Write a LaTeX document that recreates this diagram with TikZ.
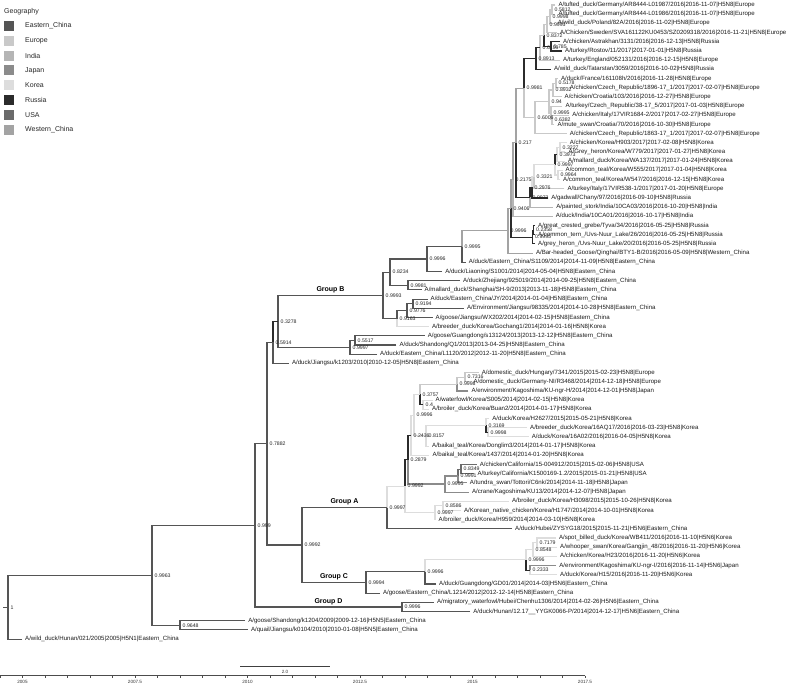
\documentclass[tikz,border=0pt]{standalone}
\usepackage{fontspec}
\setmainfont{Liberation Sans}
\usetikzlibrary{calc}
\pgfdeclarelayer{edges}
\pgfsetlayers{edges,main}
\definecolor{cEC}{HTML}{555555}
\definecolor{cEU}{HTML}{C9C9C9}
\definecolor{cIN}{HTML}{B5B5B5}
\definecolor{cJP}{HTML}{8B8B8B}
\definecolor{cKR}{HTML}{DDDDDD}
\definecolor{cRU}{HTML}{2B2B2B}
\definecolor{cUS}{HTML}{6B6B6B}
\definecolor{cWC}{HTML}{A3A3A3}
\tikzset{
  EC/.style={draw=cEC}, EU/.style={draw=cEU}, IN/.style={draw=cIN}, JP/.style={draw=cJP},
  KR/.style={draw=cKR}, RU/.style={draw=cRU}, US/.style={draw=cUS}, WC/.style={draw=cWC},
  br/.style={line width=1.1pt},
  lab/.style={anchor=west, inner sep=0pt, xshift=3pt, font=\fontsize{6.1}{7}\selectfont, text=black!90},
  bs/.style={anchor=west, inner sep=0pt, xshift=2.5pt, font=\fontsize{5.2}{6}\selectfont, text=black!85},
  grp/.style={above=2pt, inner sep=0pt, font=\fontsize{7}{8}\selectfont\bfseries},
  legtxt/.style={anchor=west, inner sep=0pt, font=\fontsize{7}{8}\selectfont, text=black!85},
  axlab/.style={inner sep=0pt, font=\fontsize{4.6}{5}\selectfont, text=black!80}
}
\newcommand\lf[3]{%
  \pgfmathsetmacro\ly{5+(#1-1)*9.19}%
  \coordinate (L#1) at (#2,\ly);
  \node[lab] at (L#1) {#3};}
\newcommand\inode[7]{%
  \path let \p1=($(#3)!.5!(#5)$) in coordinate (#1) at (#2pt,\y1);
  \begin{pgfonlayer}{edges}
  \draw[br,#4] (#3) -| (#1);
  \draw[br,#6] (#5) -| (#1);
  \end{pgfonlayer}
  \node[bs] at (#1) {#7};}
\begin{document}
\begin{tikzpicture}[x=1pt,y=-1pt]
\useasboundingbox (0,0) rectangle (793,686);
% legend
\node[legtxt] at (4,11.7) {Geography};
\foreach \nm/\cl [count=\i] in {Eastern\_China/cEC,Europe/cEU,India/cIN,Japan/cJP,Korea/cKR,Russia/cRU,USA/cUS,Western\_China/cWC}{
  \fill[\cl] (4,{25.7+(\i-1)*14.9-5}) rectangle ++(10,10);
  \node[legtxt] at (25,{25.7+(\i-1)*14.9}) {\nm};
}
% leaves
\lf{1}{555.3}{A/tufted\_duck/Germany/AR8444-L01987/2016|2016-11-07|H5N8|Europe}
\lf{2}{555.3}{A/tufted\_duck/Germany/AR8444-L01986/2016|2016-11-07|H5N8|Europe}
\lf{3}{554.7}{A/wild\_duck/Poland/82A/2016|2016-11-02|H5N8|Europe}
\lf{4}{557}{A/Chicken/Sweden/SVA161122KU0453/SZ0209318/2016|2016-11-21|H5N8|Europe}
\lf{5}{559.8}{A/chicken/Astrakhan/3131/2016|2016-12-13|H5N8|Russia}
\lf{6}{562}{A/turkey/Rostov/11/2017|2017-01-01|H5N8|Russia}
\lf{7}{560}{A/turkey/England/052131/2016|2016-12-15|H5N8|Europe}
\lf{8}{550.8}{A/wild\_duck/Tatarstan/3059/2016|2016-10-02|H5N8|Russia}
\lf{9}{557.9}{A/duck/France/161108h/2016|2016-11-28|H5N8|Europe}
\lf{10}{566.6}{A/chicken/Czech\_Republic/1896-17\_1/2017|2017-02-07|H5N8|Europe}
\lf{11}{561.5}{A/chicken/Croatia/103/2016|2016-12-27|H5N8|Europe}
\lf{12}{562.3}{A/turkey/Czech\_Republic/38-17\_5/2017|2017-01-03|H5N8|Europe}
\lf{13}{569.1}{A/chicken/Italy/17VIR1684-2/2017|2017-02-27|H5N8|Europe}
\lf{14}{554.3}{A/mute\_swan/Croatia/70/2016|2016-10-30|H5N8|Europe}
\lf{15}{566.6}{A/chicken/Czech\_Republic/1863-17\_1/2017|2017-02-07|H5N8|Europe}
\lf{16}{566.7}{A/chicken/Korea/H903/2017|2017-02-08|H5N8|Korea}
\lf{17}{565.3}{A/Grey\_heron/Korea/W779/2017|2017-01-27|H5N8|Korea}
\lf{18}{565}{A/mallard\_duck/Korea/WA137/2017|2017-01-24|H5N8|Korea}
\lf{19}{562.5}{A/common\_teal/Korea/W555/2017|2017-01-04|H5N8|Korea}
\lf{20}{560}{A/common\_teal/Korea/W547/2016|2016-12-15|H5N8|Korea}
\lf{21}{564.3}{A/turkey/Italy/17VIR538-1/2017|2017-01-20|H5N8|Europe}
\lf{22}{548.1}{A/gadwall/Chany/97/2016|2016-09-10|H5N8|Russia}
\lf{23}{553.1}{A/painted\_stork/India/10CA03/2016|2016-10-20|H5N8|India}
\lf{24}{552.7}{A/duck/India/10CA01/2016|2016-10-17|H5N8|India}
\lf{25}{535}{A/great\_crested\_grebe/Tyva/34/2016|2016-05-25|H5N8|Russia}
\lf{26}{535}{A/common\_tern\_/Uvs-Nuur\_Lake/26/2016|2016-05-25|H5N8|Russia}
\lf{27}{535}{A/grey\_heron\_/Uvs-Nuur\_Lake/20/2016|2016-05-25|H5N8|Russia}
\lf{28}{532.8}{A/Bar-headed\_Goose/Qinghai/BTY1-B/2016|2016-05-09|H5N8|Western\_China}
\lf{29}{465.6}{A/duck/Eastern\_China/S1109/2014|2014-11-09|H5N8|Eastern\_China}
\lf{30}{442.1}{A/duck/Liaoning/S1001/2014|2014-05-04|H5N8|Eastern\_China}
\lf{31}{459.9}{A/duck/Zhejiang/925019/2014|2014-09-25|H5N8|Eastern\_China}
\lf{32}{421.5}{A/mallard\_duck/Shanghai/SH-9/2013|2013-11-18|H5N8|Eastern\_China}
\lf{33}{427.5}{A/duck/Eastern\_China/JY/2014|2014-01-04|H5N8|Eastern\_China}
\lf{34}{463.9}{A/Environment/Jiangsu/98335/2014|2014-10-28|H5N8|Eastern\_China}
\lf{35}{432.5}{A/goose/Jiangsu/WX202/2014|2014-02-15|H5N8|Eastern\_China}
\lf{36}{428.8}{A/breeder\_duck/Korea/Gochang1/2014|2014-01-16|H5N8|Korea}
\lf{37}{424.6}{A/goose/Guangdong/s13124/2013|2013-12-12|H5N8|Eastern\_China}
\lf{38}{396.3}{A/duck/Shandong/Q1/2013|2013-04-25|H5N8|Eastern\_China}
\lf{39}{377}{A/duck/Eastern\_China/L1120/2012|2012-11-20|H5N8|Eastern\_China}
\lf{40}{288.8}{A/duck/Jiangsu/k1203/2010|2010-12-05|H5N8|Eastern\_China}
\lf{41}{478.6}{A/domestic\_duck/Hungary/7341/2015|2015-02-23|H5N8|Europe}
\lf{42}{470.3}{A/domestic\_duck/Germany-NI/R3468/2014|2014-12-18|H5N8|Europe}
\lf{43}{468.3}{A/environment/Kagoshima/KU-ngr-H/2014|2014-12-01|H5N8|Japan}
\lf{44}{432.5}{A/waterfowl/Korea/S005/2014|2014-02-15|H5N8|Korea}
\lf{45}{429}{A/broiler\_duck/Korea/Buan2/2014|2014-01-17|H5N8|Korea}
\lf{46}{489.2}{A/duck/Korea/H2627/2015|2015-05-21|H5N8|Korea}
\lf{47}{527}{A/breeder\_duck/Korea/16AQ17/2016|2016-03-23|H5N8|Korea}
\lf{48}{528.6}{A/duck/Korea/16A02/2016|2016-04-05|H5N8|Korea}
\lf{49}{429}{A/baikal\_teal/Korea/Donglim3/2014|2014-01-17|H5N8|Korea}
\lf{50}{429.4}{A/baikal\_teal/Korea/1437/2014|2014-01-20|H5N8|Korea}
\lf{51}{476.6}{A/chicken/California/15-004912/2015|2015-02-06|H5N8|USA}
\lf{52}{474.4}{A/turkey/California/K1500169-1.2/2015|2015-01-21|H5N8|USA}
\lf{53}{466.7}{A/tundra\_swan/Tottori/C6nk/2014|2014-11-18|H5N8|Japan}
\lf{54}{468.9}{A/crane/Kagoshima/KU13/2014|2014-12-07|H5N8|Japan}
\lf{55}{508.9}{A/broiler\_duck/Korea/H3098/2015|2015-10-26|H5N8|Korea}
\lf{56}{460.8}{A/Korean\_native\_chicken/Korea/H1747/2014|2014-10-01|H5N8|Korea}
\lf{57}{435.5}{A/broiler\_duck/Korea/H959/2014|2014-03-10|H5N8|Korea}
\lf{58}{512}{A/duck/Hubei/ZYSYG18/2015|2015-11-21|H5N6|Eastern\_China}
\lf{59}{555.8}{A/spot\_billed\_duck/Korea/WB411/2016|2016-11-10|H5N6|Korea}
\lf{60}{557}{A/whooper\_swan/Korea/Gangjin\_48/2016|2016-11-20|H5N6|Korea}
\lf{61}{557}{A/chicken/Korea/H23/2016|2016-11-20|H5N6|Korea}
\lf{62}{556.2}{A/environment/Kagoshima/KU-ngr-I/2016|2016-11-14|H5N6|Japan}
\lf{63}{557}{A/duck/Korea/H15/2016|2016-11-20|H5N6|Korea}
\lf{64}{436}{A/duck/Guangdong/GD01/2014|2014-03|H5N6|Eastern\_China}
\lf{65}{379.8}{A/goose/Eastern\_China/L1214/2012|2012-12-14|H5N8|Eastern\_China}
\lf{66}{433.8}{A/migratory\_waterfowl/Hubei/Chenhu1306/2014|2014-02-26|H5N6|Eastern\_China}
\lf{67}{470.2}{A/duck/Hunan/12.17\_\_YYGK0066-P/2014|2014-12-17|H5N6|Eastern\_China}
\lf{68}{245.1}{A/goose/Shandong/k1204/2009|2009-12-16|H5N5|Eastern\_China}
\lf{69}{247.8}{A/quail/Jiangsu/k0104/2010|2010-01-08|H5N5|Eastern\_China}
\lf{70}{22}{A/wild\_duck/Hunan/021/2005|2005|H5N1|Eastern\_China}
% internal nodes: Europe
\inode{T1}{552}{L1}{EU}{L2}{EU}{0.5812}
\inode{T2}{550}{T1}{EU}{L3}{EU}{0.9998}
\inode{T3}{547}{T2}{EU}{L4}{EU}{0.9995}
\inode{T5}{551}{L5}{RU}{L6}{RU}{0.785}
\inode{T4}{544}{T3}{EU}{T5}{RU}{0.8372}
\inode{T7}{540}{T4}{EU}{L7}{EU}{0.6109}
\inode{T8}{536}{T7}{RU}{L8}{RU}{0.8913}
\inode{U1}{556}{L9}{EU}{L10}{EU}{0.5178}
\inode{U2}{553}{U1}{EU}{L11}{EU}{0.8932}
\inode{U5}{552}{L13}{EU}{L14}{EU}{0.6382}
\inode{U6}{551}{L12}{EU}{U5}{EU}{0.9995}
\inode{U3}{549}{U2}{EU}{U6}{EU}{0.94}
\inode{U7}{535}{U3}{EU}{L15}{EU}{0.6006}
\inode{U8}{524}{T8}{RU}{U7}{EU}{0.9981}
% Korea 2017
\inode{K1}{560}{L16}{KR}{L17}{KR}{0.3227}
\inode{K2}{557}{K1}{KR}{L18}{KR}{0.3973}
\inode{K4}{558}{L19}{KR}{L20}{KR}{0.9964}
\inode{K3}{555}{K2}{RU}{K4}{KR}{0.9997}
\inode{K5}{534}{K3}{KR}{L21}{EU}{0.3321}
\inode{K6}{532}{K5}{KR}{L22}{RU}{0.2976}
\inode{P2}{530}{K6}{RU}{L23}{IN}{0.9973}
\inode{P1}{516}{U8}{WC}{P2}{RU}{0.217}
\inode{P3}{513}{P1}{WC}{L24}{IN}{0.2175}
\inode{R2}{533.5}{L25}{RU}{L26}{RU}{0.2358}
\inode{R1}{532.5}{R2}{RU}{L27}{RU}{0.9995}
\inode{Q}{511}{P3}{WC}{R1}{RU}{0.9406}
\inode{D10}{508}{Q}{WC}{L28}{WC}{0.9996}
\inode{D3}{462}{D10}{WC}{L29}{EC}{0.9995}
\inode{D2}{427}{D3}{EC}{L30}{EC}{0.9996}
\inode{D5}{408}{L31}{EC}{L32}{EC}{0.9981}
\inode{D1}{390}{D2}{EC}{D5}{EC}{0.8234}
\inode{D8}{413}{L33}{EC}{L34}{EC}{0.9194}
\inode{D7}{407}{D8}{EC}{L35}{EC}{0.9776}
\inode{D6}{397}{D7}{EC}{L36}{KR}{0.9163}
\inode{GB}{383}{D1}{EC}{D6}{EC}{0.9993}
\inode{Nb}{355}{L37}{EC}{L38}{EC}{0.5517}
\inode{Na}{350}{Nb}{EC}{L39}{EC}{0.9997}
\inode{N3278}{278}{GB}{EC}{Na}{EC}{0.3278}
\inode{N5914}{273}{N3278}{RU}{L40}{EC}{0.5914}
% Group A
\inode{E1}{465}{L41}{EU}{L42}{EU}{0.7316}
\inode{E2}{457}{E1}{EU}{L43}{JP}{0.9998}
\inode{E4}{423}{L44}{KR}{L45}{KR}{0.4}
\inode{E3}{420}{E2}{EU}{E4}{RU}{0.3757}
\inode{B2}{488}{L47}{KR}{L48}{KR}{0.9998}
\inode{B1}{486}{L46}{KR}{B2}{RU}{0.3169}
\inode{E6}{426}{B1}{KR}{L49}{KR}{0.8157}
\inode{E5}{414}{E3}{KR}{E6}{KR}{0.9996}
\inode{A6}{411}{E5}{KR}{L50}{KR}{0.2436}
\inode{A9}{461}{L51}{US}{L52}{US}{0.8349}
\inode{A10}{458}{A9}{US}{L53}{JP}{0.9991}
\inode{A11}{445}{A10}{JP}{L54}{JP}{0.9995}
\inode{A3}{408}{A6}{RU}{A11}{JP}{0.2879}
\inode{A5}{443}{L55}{KR}{L56}{KR}{0.8586}
\inode{A4}{435}{A5}{KR}{L57}{KR}{0.9997}
\inode{A2}{405}{A3}{RU}{A4}{KR}{0.9992}
\inode{GA}{387}{A2}{KR}{L58}{EC}{0.9997}
% Group C
\inode{C5}{537}{L59}{KR}{L60}{KR}{0.7179}
\inode{C3}{533}{C5}{KR}{L61}{KR}{0.8548}
\inode{C4}{530}{L62}{JP}{L63}{KR}{0.2333}
\inode{C2}{526}{C3}{KR}{C4}{RU}{0.9996}
\inode{C1}{425}{C2}{KR}{L64}{EC}{0.9996}
\inode{GC}{366}{C1}{EC}{L65}{EC}{0.9994}
\inode{N9992}{302}{GA}{EC}{GC}{EC}{0.9992}
\inode{N7882}{267}{N5914}{EC}{N9992}{EC}{0.7882}
\inode{GD}{402}{L66}{EC}{L67}{EC}{0.9996}
\inode{N999}{255}{N7882}{EC}{GD}{EC}{0.999}
\inode{N9648}{180}{L68}{EC}{L69}{EC}{0.9648}
\inode{N9963}{152}{N999}{EC}{N9648}{EC}{0.9963}
\inode{Rt}{8}{N9963}{EC}{L70}{EC}{1}
\begin{pgfonlayer}{edges}
\draw[br,EC] (Rt) -- ++(-5,0);
\end{pgfonlayer}
% group labels
\node[grp] at ($(N3278 |- GB)!.5!(GB)$) {Group B};
\node[grp] at ($(N9992 |- GA)!.5!(GA)$) {Group A};
\node[grp] at ($(N9992 |- GC)!.5!(GC)$) {Group C};
\node[grp] at ($(N999 |- GD)!.5!(GD)$) {Group D};
% scale bar
\draw[line width=0.8pt, black!75] (240,666) -- (330,666);
\node[axlab] at (285,672) {2.0};
% axis
\draw[line width=0.5pt, black!70] (0,675.5) -- (585,675.5);
\foreach \i in {0,...,26} \draw[line width=0.4pt, black!70] ({\i*22.5},675.5) -- ++(0,2.5);
\foreach \lb [count=\j from 0] in {2005,2007.5,2010,2012.5,2015,2017.5}
  \node[axlab] at ({22.5+\j*112.5},682) {\lb};
\end{tikzpicture}
\end{document}
